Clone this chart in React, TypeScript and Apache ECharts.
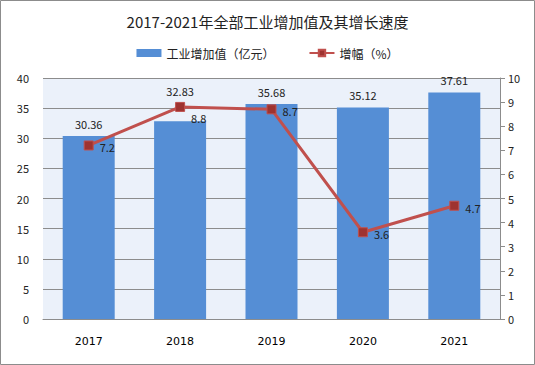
import React, { useEffect, useRef } from "react";
import * as echarts from "echarts";

const categories = ["2017", "2018", "2019", "2020", "2021"];
const valueAdded = [30.36, 32.83, 35.68, 35.12, 37.61];
const growth = [7.2, 8.8, 8.7, 3.6, 4.7];
const titleText = "2017-2021年全部工业增加值及其增长速度";
const barName = "工业增加值（亿元）";
const lineName = "增幅（%）";

export default function App() {
  const ref = useRef<HTMLDivElement>(null);
  useEffect(() => {
    document.body.style.margin = "0";
    const chart = echarts.init(ref.current!, undefined, { renderer: "svg" });
    const font = "'Noto Sans CJK SC', 'DejaVu Sans', sans-serif";
    chart.setOption({
      animation: false,
      backgroundColor: "#ffffff",
      textStyle: { fontFamily: font },
      title: {
        text: titleText,
        left: "center",
        top: 9,
        textStyle: { fontSize: 15, fontWeight: "normal", color: "#222", fontFamily: font },
      },
      legend: {
        top: 42,
        left: "center",
        itemGap: 34,
        itemWidth: 25,
        itemHeight: 8,
        textStyle: { fontSize: 12, color: "#222", fontFamily: font },
        data: [
          { name: barName, icon: "rect", itemStyle: { color: "#558ED5" } },
          { name: lineName },
        ],
      },
      graphic: [
        {
          type: "rect",
          shape: { x: 0.5, y: 0.5, width: 534, height: 364 },
          style: { fill: "none", stroke: "#8c8c8c", lineWidth: 1 },
          silent: true,
        },
      ],
      grid: {
        left: 43,
        right: 35,
        top: 78,
        bottom: 46,
        show: true,
        backgroundColor: "#EBF1FA",
        borderWidth: 0,
      },
      xAxis: {
        type: "category",
        data: categories,
        axisLine: { lineStyle: { color: "#8c8c8c" } },
        axisTick: { show: false },
        axisLabel: { fontSize: 11, color: "#000", margin: 17, fontFamily: "'DejaVu Sans', sans-serif" },
      },
      yAxis: [
        {
          type: "value",
          min: 0,
          max: 40,
          interval: 5,
          axisLine: { show: false },
          axisTick: { show: false },
          axisLabel: { fontSize: 11, color: "#222", margin: 14 },
          splitLine: { lineStyle: { color: "#8c8c8c", width: 1 } },
        },
        {
          type: "value",
          min: 0,
          max: 10,
          interval: 1,
          position: "right",
          axisLine: { show: true, lineStyle: { color: "#8c8c8c" } },
          axisTick: { show: true, inside: false, length: 5, lineStyle: { color: "#8c8c8c" } },
          axisLabel: { fontSize: 11, color: "#222", margin: 8 },
          splitLine: { show: false },
        },
      ],
      series: [
        {
          name: barName,
          type: "bar",
          data: valueAdded.map((v, i) =>
            i === 1 ? { value: v, label: { offset: [0, -18] } } : v
          ),
          barWidth: 52,
          itemStyle: { color: "#558ED5" },
          label: { show: true, position: "top", distance: 7, fontSize: 11, color: "#222" },
        },
        {
          name: lineName,
          type: "line",
          yAxisIndex: 1,
          data: growth.map((v, i) =>
            i === 1 ? { value: v, label: { offset: [0, 11] } } : v
          ),
          symbol: "rect",
          symbolSize: 9,
          lineStyle: { color: "#C0504D", width: 3 },
          itemStyle: { color: "#9E3330", borderColor: "#C0504D", borderWidth: 1 },
          label: { show: true, position: "right", distance: 6, offset: [0, 2], fontSize: 11, color: "#222" },
        },
      ],
    });
    return () => chart.dispose();
  }, []);
  return <div ref={ref} style={{ width: 535, height: 365 }} />;
}
